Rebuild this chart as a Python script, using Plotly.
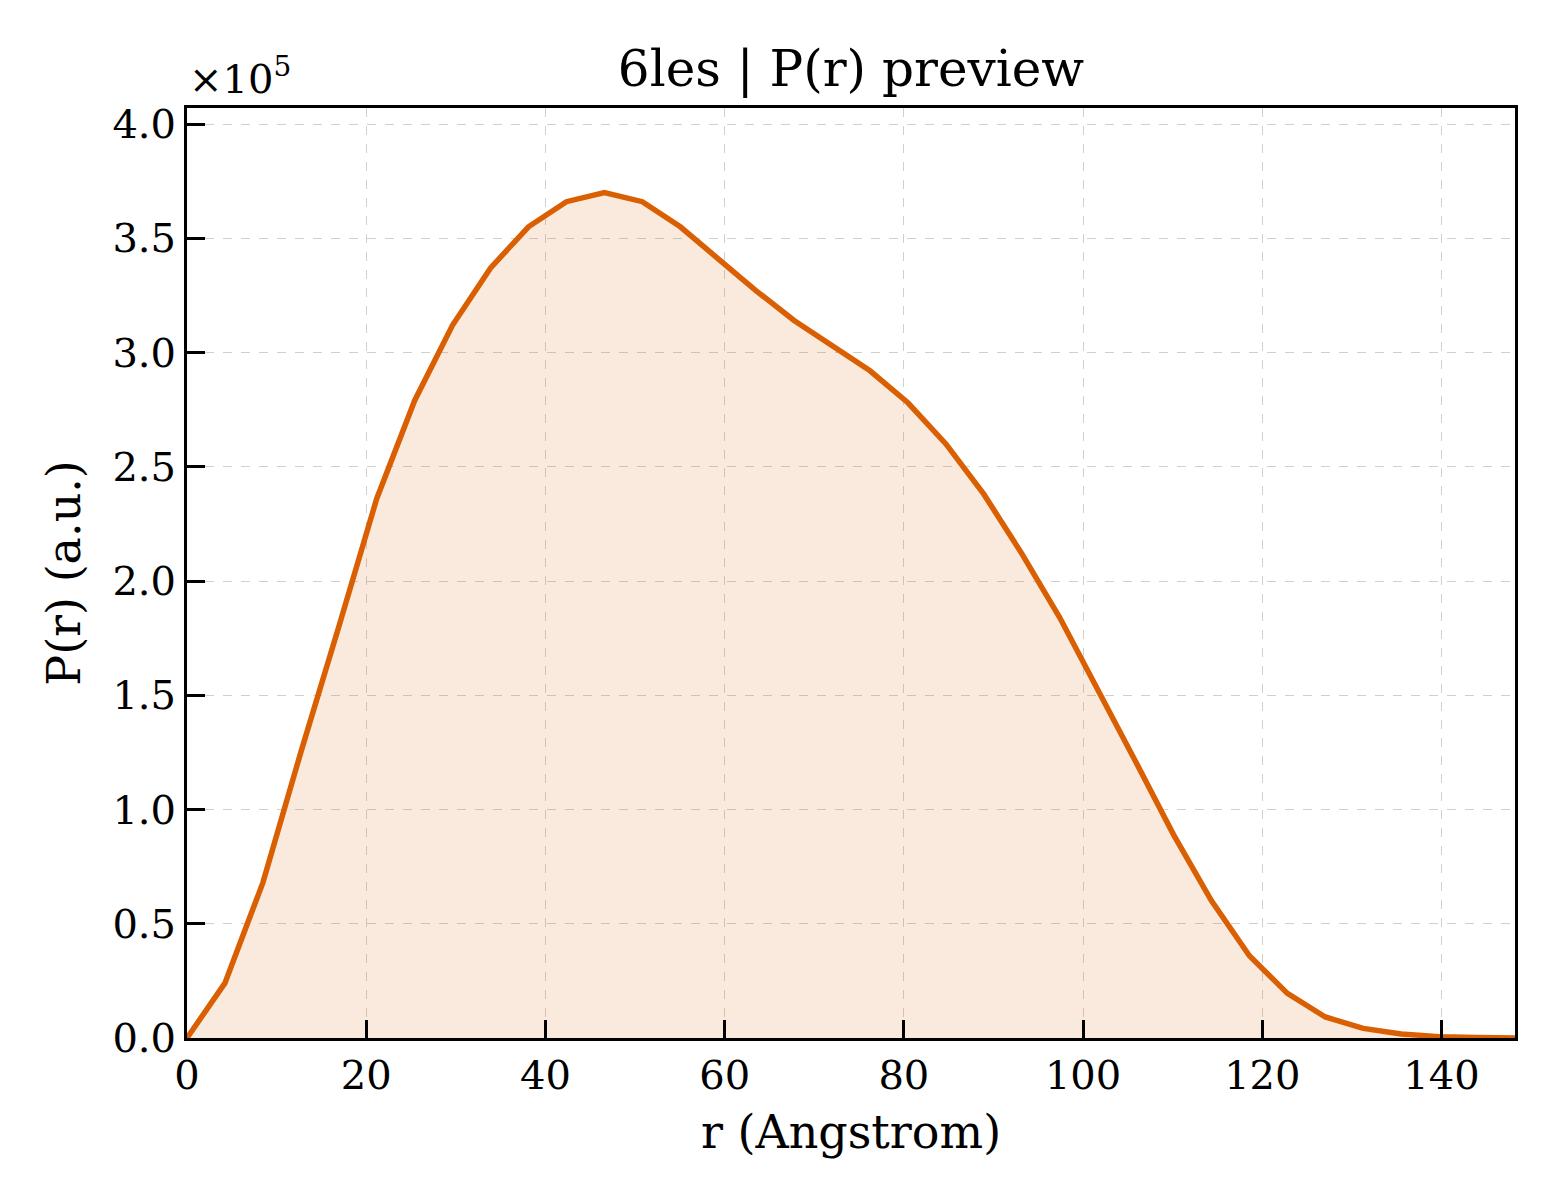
import plotly.graph_objects as go

# distancias r (Angstrom) y P(r) en unidades de 1e5
r_vals = [0.0, 4.23, 8.47, 12.70, 16.94, 21.17, 25.41, 29.64, 33.88, 38.11,
          42.34, 46.58, 50.81, 55.05, 59.28, 63.52, 67.75, 71.98, 76.22, 80.45,
          84.69, 88.92, 93.16, 97.39, 101.62, 105.86, 110.09, 114.33, 118.56, 122.80,
          127.03, 131.26, 135.50, 139.73, 143.97, 148.20]
p_vals = [0.0, 0.24, 0.68, 1.25, 1.80, 2.36, 2.79, 3.12, 3.37, 3.55,
          3.66, 3.70, 3.66, 3.55, 3.41, 3.27, 3.14, 3.03, 2.92, 2.78,
          2.60, 2.38, 2.12, 1.84, 1.53, 1.21, 0.89, 0.60, 0.36, 0.195,
          0.092, 0.042, 0.018, 0.006, 0.002, 0.0005]

x_ticks = [0, 20, 40, 60, 80, 100, 120, 140]
y_ticks = [0.0, 0.5, 1.0, 1.5, 2.0, 2.5, 3.0, 3.5, 4.0]
y_labels = ['%.1f' % v for v in y_ticks]

fuente = 'DejaVu Serif'
naranja = '#D95F02'

fig = go.Figure()
fig.add_trace(go.Scatter(
    x=r_vals, y=p_vals, mode='lines',
    line=dict(color=naranja, width=5.5),
    fill='tozeroy', fillcolor='rgba(217,95,2,0.13)',
    showlegend=False,
))

eje = dict(
    showline=True, linecolor='black', linewidth=3, mirror=True,
    ticks='inside', ticklen=18, tickwidth=3, tickcolor='black',
    showgrid=True, gridcolor='#d0d0d0', gridwidth=1.3, griddash='dash',
    zeroline=False,
    tickfont=dict(family=fuente, size=40, color='black'),
)

# la pagina tiene 8px de margen en el body, se compensa aqui
fig.update_layout(
    width=1552, height=1192,
    paper_bgcolor='white', plot_bgcolor='white',
    margin=dict(l=179, r=45, t=100, b=162),
    font=dict(family=fuente, color='black'),
    title=dict(text='6les | P(r) preview', x=(851 - 8) / 1552, xanchor='center',
               y=1 - 60 / 1192, yanchor='middle', font=dict(family=fuente, size=50)),
    xaxis=dict(eje, range=[0, 148.2], tickvals=x_ticks,
               title=dict(text='r (Angstrom)', font=dict(family=fuente, size=46), standoff=19)),
    yaxis=dict(eje, range=[0, 4.07], tickvals=y_ticks, ticktext=y_labels,
               title=dict(text='P(r) (a.u.)', font=dict(family=fuente, size=46), standoff=18)),
)

# multiplicador del eje y
fig.add_annotation(
    text='×10<sup>5</sup>', xref='paper', yref='paper', x=0, y=1.0,
    xanchor='left', yanchor='bottom', showarrow=False,
    font=dict(family=fuente, size=40, color='black'), yshift=4,
)

fig.write_html('out.html')
